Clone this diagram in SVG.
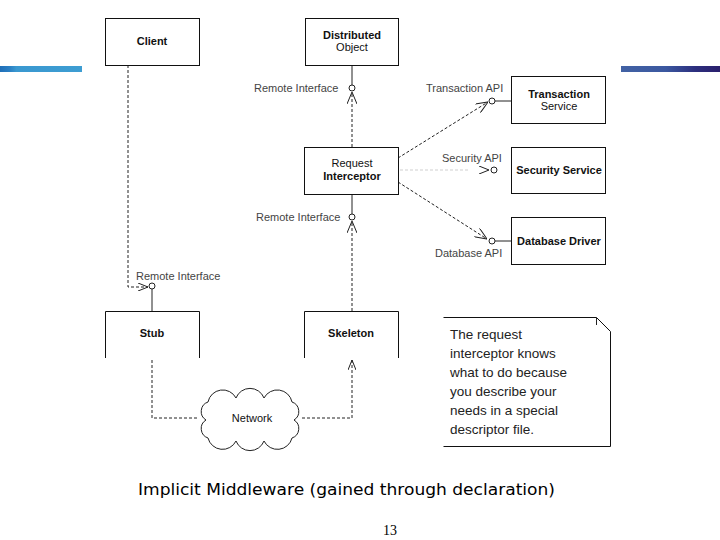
<svg xmlns="http://www.w3.org/2000/svg" width="720" height="540" viewBox="0 0 720 540">
<defs>
<linearGradient id="gl" x1="0" y1="0" x2="1" y2="0">
<stop offset="0" stop-color="#1f6fb8"/>
<stop offset="0.12" stop-color="#2a80c4"/>
<stop offset="0.2" stop-color="#3a98d0"/>
<stop offset="1" stop-color="#3d9dd2"/>
</linearGradient>
<linearGradient id="gr" x1="0" y1="0" x2="1" y2="0">
<stop offset="0" stop-color="#4262a4"/>
<stop offset="0.45" stop-color="#3b58a0"/>
<stop offset="0.75" stop-color="#2c2f7e"/>
<stop offset="1" stop-color="#2a1f6c"/>
</linearGradient>
<marker id="arr" viewBox="0 0 12 10" markerWidth="12" markerHeight="10" refX="12" refY="5" orient="auto" markerUnits="userSpaceOnUse">
<path d="M0,0 L12,5 L0,10" fill="none" stroke="#222" stroke-width="1"/>
</marker>
<marker id="arrs" viewBox="0 0 10 8" markerWidth="10" markerHeight="8" refX="10" refY="4" orient="auto" markerUnits="userSpaceOnUse">
<path d="M0,0 L10,4 L0,8" fill="none" stroke="#222" stroke-width="1"/>
</marker>
</defs>
<style>
.box{fill:#fff;stroke:#111;stroke-width:1}
.open{fill:none;stroke:#111;stroke-width:1}
.lbl{font-family:"Liberation Sans",Arial,sans-serif;font-size:11px;fill:#111;text-anchor:middle}
.b{font-weight:bold}
.if{font-family:"Liberation Sans",Arial,sans-serif;font-size:11px;fill:#444}
.dash{fill:none;stroke:#222;stroke-width:1;stroke-dasharray:3,2}
.solid{fill:none;stroke:#222;stroke-width:1}
.lol{fill:#fff;stroke:#222;stroke-width:1}
.note{font-family:"Liberation Sans",Arial,sans-serif;font-size:13.5px;fill:#222}
</style>
<rect width="720" height="540" fill="#fff"/>
<rect x="0" y="66" width="82" height="6" fill="url(#gl)"/>
<rect x="621" y="66" width="99" height="6" fill="url(#gr)"/>

<g id="connectors">
<line class="solid" x1="352" y1="65" x2="352" y2="85"/>
<circle class="lol" cx="352" cy="88" r="3"/>
<line class="dash" x1="352" y1="147" x2="352" y2="92" marker-end="url(#arr)"/>
<line class="solid" x1="352" y1="194" x2="352" y2="214"/>
<circle class="lol" cx="352" cy="217" r="3"/>
<line class="dash" x1="352" y1="311" x2="352" y2="221" marker-end="url(#arr)"/>
<polyline class="dash" points="128,65 128,287 148,287" marker-end="url(#arrs)"/>
<circle class="lol" cx="152" cy="286" r="3"/>
<line class="solid" x1="152" y1="289" x2="152" y2="311"/>
<line class="dash" x1="398" y1="158" x2="488" y2="102" marker-end="url(#arr)"/>
<circle class="lol" cx="492" cy="101" r="3"/>
<line class="solid" x1="495" y1="101" x2="511" y2="101"/>
<line x1="400" y1="170" x2="470" y2="170" stroke="#cfcfcf" stroke-width="1" stroke-dasharray="3,2"/>
<line x1="474" y1="170" x2="489" y2="170" stroke="none" marker-end="url(#arrs)"/>
<circle class="lol" cx="494" cy="170" r="3"/>
<line class="dash" x1="398" y1="182" x2="487" y2="239" marker-end="url(#arr)"/>
<circle class="lol" cx="492" cy="241" r="3"/>
<line class="solid" x1="495" y1="241" x2="511" y2="241"/>
<polyline class="dash" points="152,360 152,418 198,418"/>
<polyline class="dash" points="302,418 352,418 352,360" marker-end="url(#arrs)"/>
</g>

<g id="labels">
<text class="if" x="254" y="92">Remote Interface</text>
<text class="if" x="256" y="221">Remote Interface</text>
<text class="if" x="136" y="280">Remote Interface</text>
<text class="if" x="426" y="92">Transaction API</text>
<text class="if" x="442" y="162">Security API</text>
<text class="if" x="435" y="257">Database API</text>
</g>

<g id="client">
<rect class="box" x="105.5" y="18.5" width="94" height="47"/>
<text class="lbl b" x="152" y="45">Client</text>
</g>
<g id="distributed-object">
<rect class="box" x="305.5" y="18.5" width="93" height="47"/>
<text class="lbl b" x="352" y="39">Distributed</text>
<text class="lbl" x="352" y="51">Object</text>
</g>
<g id="request-interceptor">
<rect class="box" x="304.5" y="147.5" width="94" height="47"/>
<text class="lbl" x="352" y="167">Request</text>
<text class="lbl b" x="352" y="180">Interceptor</text>
</g>
<g id="transaction-service">
<rect class="box" x="511.5" y="76.5" width="94" height="47"/>
<text class="lbl b" x="559" y="98">Transaction</text>
<text class="lbl" x="559" y="110">Service</text>
</g>
<g id="security-service">
<rect class="box" x="511.5" y="147.5" width="94" height="46"/>
<text class="lbl b" x="559" y="174">Security Service</text>
</g>
<g id="database-driver">
<rect class="box" x="511.5" y="217.5" width="94" height="47"/>
<text class="lbl b" x="559" y="245">Database Driver</text>
</g>
<g id="stub">
<polyline class="open" points="105.5,358 105.5,311.5 199.5,311.5 199.5,358"/>
<text class="lbl b" x="152" y="337">Stub</text>
</g>
<g id="skeleton">
<polyline class="open" points="304.5,358 304.5,311.5 398.5,311.5 398.5,358"/>
<text class="lbl b" x="351" y="337">Skeleton</text>
</g>
<g id="network">
<path class="solid" d="M208,402 A15,15 0 0 1 236,398 A15,15 0 0 1 264,398 A15,15 0 0 1 292,402 A10,10 0 0 1 294,420 A10,10 0 0 1 292,438 A15,15 0 0 1 264,441 A15,15 0 0 1 236,441 A15,15 0 0 1 208,438 A10,10 0 0 1 206,420 A10,10 0 0 1 208,402 Z"/>
<text class="lbl" x="252" y="422" fill="#333">Network</text>
</g>
<g id="note">
<path class="open" d="M443.5,317.5 L596.5,317.5 L610.5,331.5 L610.5,446.5 L443.5,446.5"/>
<line class="solid" x1="596.5" y1="317.5" x2="596.5" y2="325"/>
<text class="note" x="450" y="339">The request</text>
<text class="note" x="450" y="358">interceptor knows</text>
<text class="note" x="450" y="377">what to do because</text>
<text class="note" x="450" y="396">you describe your</text>
<text class="note" x="450" y="415">needs in a special</text>
<text class="note" x="450" y="434">descriptor file.</text>
</g>
<text x="138" y="495" font-family="DejaVu Sans, Verdana, sans-serif" font-size="16" fill="#000" textLength="417" lengthAdjust="spacingAndGlyphs">Implicit Middleware (gained through declaration)</text>
<text x="390" y="535" font-family="Liberation Serif, Times New Roman, serif" font-size="14" fill="#000" text-anchor="middle">13</text>
</svg>
